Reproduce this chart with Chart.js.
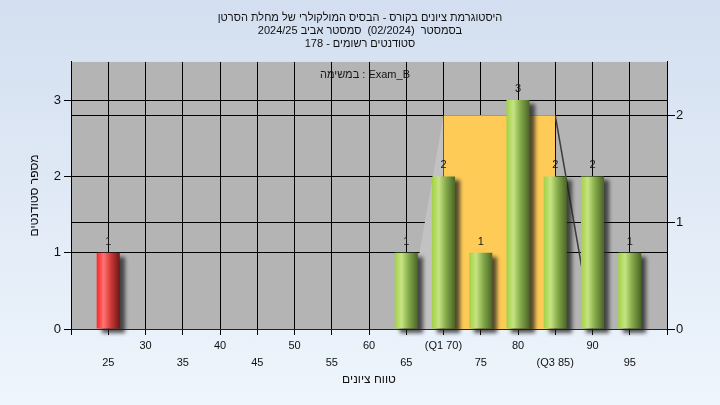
<!DOCTYPE html>
<html>
<head>
<meta charset="utf-8">
<script src="https://cdn.jsdelivr.net/npm/chart.js@4.4.1/dist/chart.umd.min.js"></script>
<style>
  html, body { margin: 0; padding: 0; }
  #wrap { width: 720px; height: 405px; background: linear-gradient(180deg, #d3dff0 0%, #eef5fc 100%); }
</style>
</head>
<body>
<div id="wrap"><canvas id="histo" width="720" height="405"></canvas></div>
<script>
// grade bins and counts
const grades = [25, 30, 35, 40, 45, 50, 55, 60, 65, 70, 75, 80, 85, 90, 95];
const gradeLabels = ['25', '30', '35', '40', '45', '50', '55', '60', '65', '(Q1 70)', '75', '80', '(Q3 85)', '90', '95'];
const students = [1, 0, 0, 0, 0, 0, 0, 0, 1, 2, 1, 3, 2, 2, 1];
// box: min, Q1, Q3, max (on the right axis)
const boxGrades = [65, 70, 85, 90];
const boxLevel = 2;
const passGrade = 55;

const titleLines = [
  'היסטוגרמת ציונים בקורס - הבסיס המולקולרי של מחלת הסרטן',
  'בסמסטר  (02/2024)  סמסטר אביב 2024/25',
  'סטודנטים רשומים - 178'
];
const taskLabel = 'במשימה : Exam_B';
const FONT = 'Liberation Sans, Arial, sans-serif';

function cylinder(c) {
  const chart = c.chart, xs = chart.scales.x;
  const i = c.dataIndex;
  const failing = i !== undefined && grades[i] < passGrade;
  const flat = failing ? '#e52020' : '#9ccb4a';
  if (!xs || i === undefined) return flat;
  const cx = xs.getPixelForValue(grades[i]);
  const w = (xs.getPixelForValue(25) - xs.getPixelForValue(20)) * 0.62;
  if (!isFinite(cx) || !isFinite(w) || w <= 0) return flat;
  const g = chart.ctx.createLinearGradient(cx - w / 2, 0, cx + w / 2, 0);
  if (failing) {
    g.addColorStop(0, '#ff2222');
    g.addColorStop(0.3, '#ff7474');
    g.addColorStop(0.6, '#d23a3a');
    g.addColorStop(1, '#6e1616');
  } else {
    g.addColorStop(0, '#a2d145');
    g.addColorStop(0.3, '#c6e482');
    g.addColorStop(0.6, '#86ab4b');
    g.addColorStop(1, '#4a6526');
  }
  return g;
}

const plotBg = {
  id: 'plotBg',
  beforeDraw(chart) {
    const {ctx, chartArea: a} = chart;
    ctx.save();
    ctx.fillStyle = '#b4b4b4';
    ctx.fillRect(a.left, a.top, a.right - a.left, a.bottom - a.top);
    ctx.restore();
  }
};

const barShadow = {
  id: 'barShadow',
  beforeDatasetDraw(chart, args) {
    if (args.meta.type !== 'bar') return;
    const ctx = chart.ctx;
    ctx.save();
    ctx.shadowColor = 'rgba(30,30,30,0.75)';
    ctx.shadowOffsetX = 5;
    ctx.shadowOffsetY = 4;
    ctx.shadowBlur = 4;
  },
  afterDatasetDraw(chart, args) {
    if (args.meta.type !== 'bar') return;
    chart.ctx.restore();
  }
};

const barValues = {
  id: 'barValues',
  afterDatasetsDraw(chart) {
    const ctx = chart.ctx;
    ctx.save();
    ctx.font = '11px ' + FONT;
    ctx.fillStyle = '#151515';
    ctx.textAlign = 'center';
    ctx.textBaseline = 'middle';
    chart.data.datasets.forEach((ds, di) => {
      const meta = chart.getDatasetMeta(di);
      if (meta.type !== 'bar') return;
      meta.data.forEach((el, i) => {
        const v = ds.data[i].y;
        if (v > 0) ctx.fillText(String(v), el.x, el.y - 11);
      });
    });
    const a = chart.chartArea;
    ctx.fillText(taskLabel, (a.left + a.right) / 2 - 4, a.top + 13);
    ctx.restore();
  }
};

function onlyWhole(scale) {
  scale.ticks = scale.ticks.filter(t => Number.isInteger(t.value));
}

new Chart(document.getElementById('histo'), {
  data: {
    datasets: [
      {
        type: 'bar',
        order: 1,
        data: grades.map((g, i) => ({x: g, y: students[i]})),
        backgroundColor: cylinder,
        borderWidth: 0,
        barPercentage: 0.62,
        categoryPercentage: 1,
        yAxisID: 'y',
        clip: 8
      },
      {
        type: 'line',
        order: 3,
        data: [{x: boxGrades[1], y: boxLevel}, {x: boxGrades[2], y: boxLevel}],
        yAxisID: 'y2',
        fill: 'origin',
        backgroundColor: '#ffcb57',
        borderWidth: 0,
        pointRadius: 0
      },
      {
        type: 'line',
        order: 4,
        data: [{x: boxGrades[0], y: 0}, {x: boxGrades[1], y: boxLevel}],
        yAxisID: 'y2',
        fill: 'origin',
        backgroundColor: '#c2c2c2',
        borderWidth: 0,
        pointRadius: 0
      },
      {
        type: 'line',
        order: 4,
        data: [{x: boxGrades[2], y: boxLevel}, {x: boxGrades[3], y: 0}],
        yAxisID: 'y2',
        fill: false,
        borderColor: '#3c3c3c',
        borderWidth: 1.5,
        pointRadius: 0
      }
    ]
  },
  options: {
    responsive: false,
    devicePixelRatio: 1,
    animation: false,
    layout: {padding: 0},
    plugins: {
      legend: {display: false},
      tooltip: {enabled: false},
      title: {
        display: true,
        text: titleLines,
        color: '#111',
        font: {family: FONT, size: 11, weight: 'normal', lineHeight: 1.15},
        padding: {top: 12, bottom: 12}
      }
    },
    scales: {
      x: {
        type: 'linear',
        min: 20,
        max: 100,
        offset: false,
        afterFit: s => { s.height = 76; },
        grid: {color: '#000', tickLength: 6, offset: false},
        border: {color: '#222'},
        ticks: {
          stepSize: 5,
          autoSkip: false,
          maxRotation: 0,
          minRotation: 0,
          padding: 3,
          color: '#111',
          font: {family: FONT, size: 11, lineHeight: 1.5},
          callback: v => {
            const i = grades.indexOf(v);
            if (i < 0) return '';
            return i % 2 === 0 ? ['', gradeLabels[i]] : [gradeLabels[i], ''];
          }
        },
        title: {
          display: true,
          text: 'טווח ציונים',
          color: '#111',
          font: {family: FONT, size: 12},
          padding: {top: 0, bottom: 18}
        }
      },
      y: {
        position: 'left',
        min: 0,
        max: 3.5,
        afterFit: s => { s.width = 71; },
        afterBuildTicks: onlyWhole,
        grid: {color: '#000', tickLength: 7},
        border: {color: '#000'},
        ticks: {stepSize: 1, padding: 3, color: '#111', font: {family: FONT, size: 13}},
        title: {
          display: true,
          text: 'מספר סטודנטים',
          color: '#111',
          font: {family: FONT, size: 12},
          padding: {top: 27, bottom: 0}
        }
      },
      y2: {
        position: 'right',
        min: 0,
        max: 2.5,
        afterFit: s => { s.width = 53; },
        afterBuildTicks: onlyWhole,
        grid: {color: '#000', tickLength: 8},
        border: {color: '#000'},
        ticks: {stepSize: 1, padding: 1, color: '#111', font: {family: FONT, size: 13}}
      }
    }
  },
  plugins: [plotBg, barShadow, barValues]
});
</script>
</body>
</html>
